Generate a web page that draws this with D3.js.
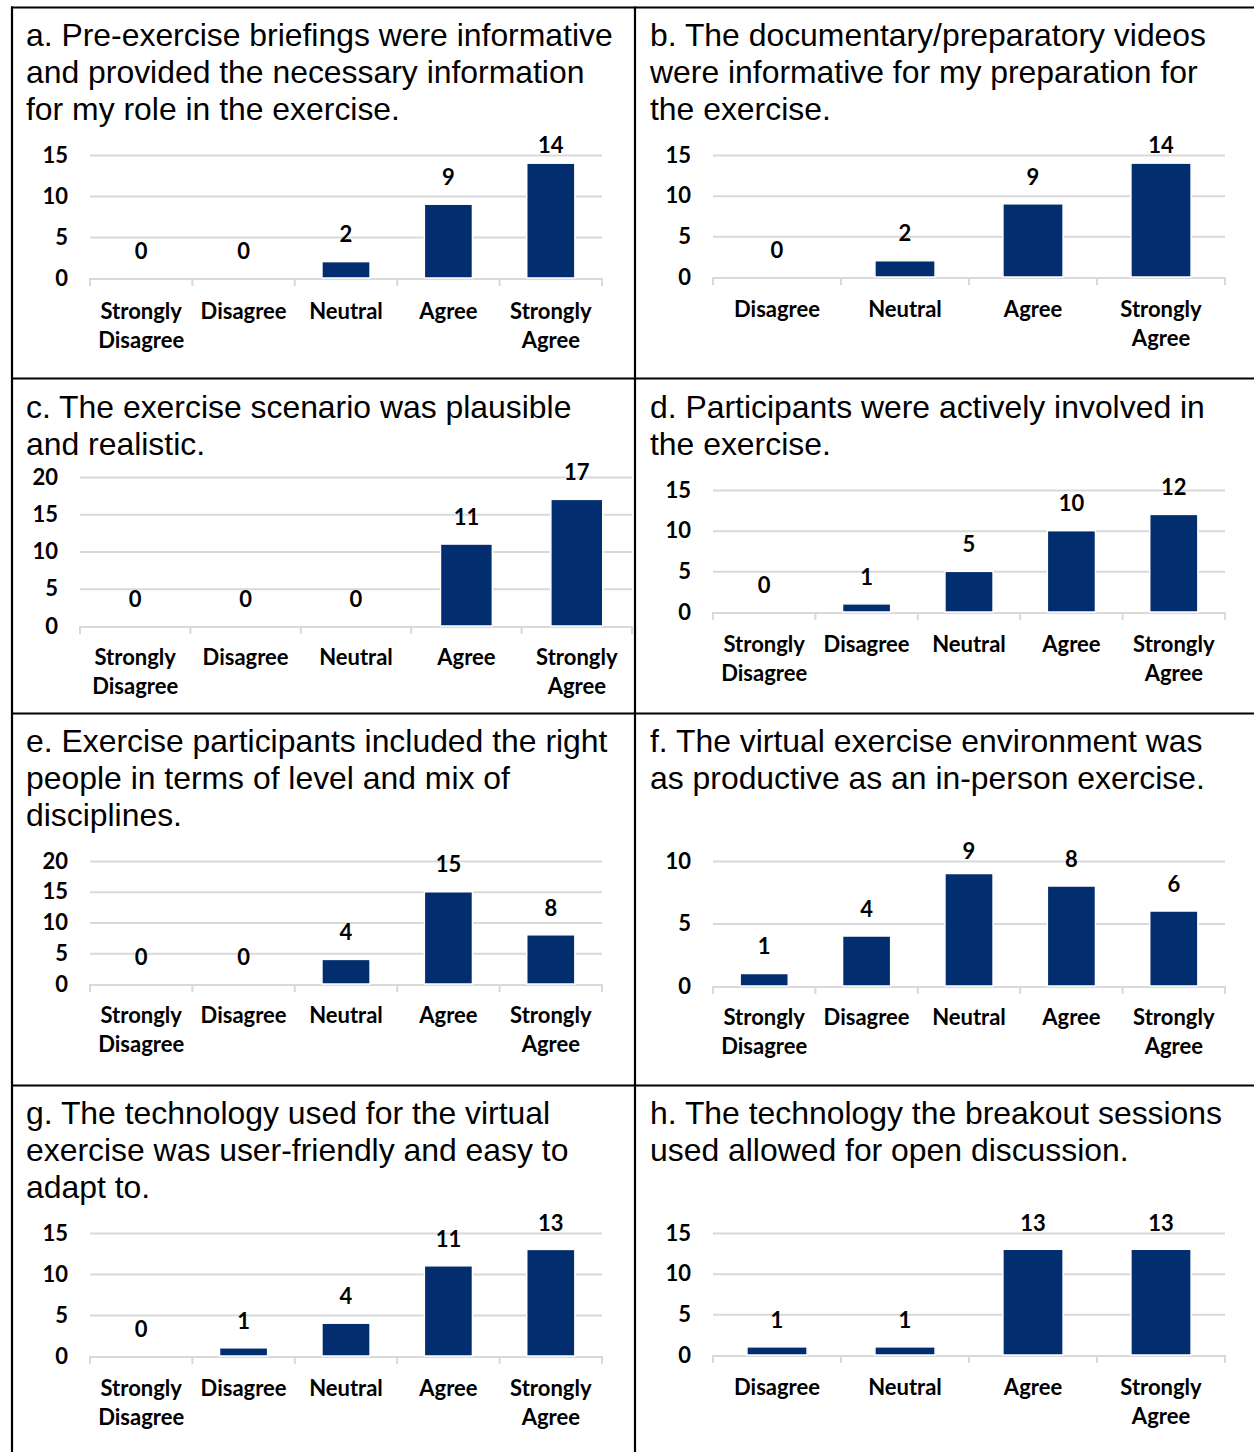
<!DOCTYPE html>
<html>
<head>
<meta charset="utf-8">
<script src="https://cdn.jsdelivr.net/npm/d3@7"></script>
<style>
  html, body { margin: 0; padding: 0; background: #fff; }
  svg { display: block; }
</style>
</head>
<body>
<svg id="chart" width="1254" height="1452"></svg>
<script>
// ---------------- DATA ----------------
const categoriesFive = ["Strongly Disagree", "Disagree", "Neutral", "Agree", "Strongly Agree"];
const categoriesFour = ["Disagree", "Neutral", "Agree", "Strongly Agree"];

const titleA = ["a. Pre-exercise briefings were informative", "and provided the necessary information", "for my role in the exercise."];
const valuesA = [0, 0, 2, 9, 14];
const ticksA = [0, 5, 10, 15];

const titleB = ["b. The documentary/preparatory videos", "were informative for my preparation for", "the exercise."];
const valuesB = [0, 2, 9, 14];
const ticksB = [0, 5, 10, 15];

const titleC = ["c. The exercise scenario was plausible", "and realistic."];
const valuesC = [0, 0, 0, 11, 17];
const ticksC = [0, 5, 10, 15, 20];

const titleD = ["d. Participants were actively involved in", "the exercise."];
const valuesD = [0, 1, 5, 10, 12];
const ticksD = [0, 5, 10, 15];

const titleE = ["e. Exercise participants included the right", "people in terms of level and mix of", "disciplines."];
const valuesE = [0, 0, 4, 15, 8];
const ticksE = [0, 5, 10, 15, 20];

const titleF = ["f. The virtual exercise environment was", "as productive as an in-person exercise."];
const valuesF = [1, 4, 9, 8, 6];
const ticksF = [0, 5, 10];

const titleG = ["g. The technology used for the virtual", "exercise was user-friendly and easy to", "adapt to."];
const valuesG = [0, 1, 4, 11, 13];
const ticksG = [0, 5, 10, 15];

const titleH = ["h. The technology the breakout sessions", "used allowed for open discussion."];
const valuesH = [1, 1, 13, 13];
const ticksH = [0, 5, 10, 15];

// ---------------- LAYOUT (positions only) ----------------
const layout = [
  { title: titleA, cats: categoriesFive, values: valuesA, ticks: ticksA, x0: 90,  x1: 602,  yTop: 155,  yBase: 278,  tx: 26,  ty: 35,   ly: 311 },
  { title: titleB, cats: categoriesFour, values: valuesB, ticks: ticksB, x0: 713, x1: 1225, yTop: 155,  yBase: 277,  tx: 650, ty: 35,   ly: 309 },
  { title: titleC, cats: categoriesFive, values: valuesC, ticks: ticksC, x0: 80,  x1: 632,  yTop: 477,  yBase: 626,  tx: 26,  ty: 407,  ly: 657 },
  { title: titleD, cats: categoriesFive, values: valuesD, ticks: ticksD, x0: 713, x1: 1225, yTop: 490,  yBase: 612,  tx: 650, ty: 407,  ly: 644 },
  { title: titleE, cats: categoriesFive, values: valuesE, ticks: ticksE, x0: 90,  x1: 602,  yTop: 861,  yBase: 984,  tx: 26,  ty: 741,  ly: 1015 },
  { title: titleF, cats: categoriesFive, values: valuesF, ticks: ticksF, x0: 713, x1: 1225, yTop: 861,  yBase: 986,  tx: 650, ty: 741,  ly: 1017 },
  { title: titleG, cats: categoriesFive, values: valuesG, ticks: ticksG, x0: 90,  x1: 602,  yTop: 1233, yBase: 1356, tx: 26,  ty: 1113, ly: 1388 },
  { title: titleH, cats: categoriesFour, values: valuesH, ticks: ticksH, x0: 713, x1: 1225, yTop: 1233, yBase: 1355, tx: 650, ty: 1113, ly: 1387 }
];

const BAR = "#022d6f";
const GRID = "#d9d9d9";
const TITLE_FONT = "'Liberation Sans', Arial, sans-serif";
const LABEL_FONT = "Lato, 'Open Sans', sans-serif";

const svg = d3.select("#chart");

// table borders
const borders = svg.append("g").attr("stroke", "#000").attr("stroke-width", 2.2);
borders.append("line").attr("x1", 12).attr("x2", 12).attr("y1", 6.5).attr("y2", 1452);
borders.append("line").attr("x1", 635).attr("x2", 635).attr("y1", 6.5).attr("y2", 1452);
[7.5, 378.5, 713.5, 1085.5].forEach(y =>
  borders.append("line").attr("x1", 11).attr("x2", 1254).attr("y1", y).attr("y2", y));

layout.forEach(p => {
  const g = svg.append("g");

  // title
  const t = g.append("text")
    .attr("font-family", TITLE_FONT)
    .attr("font-size", 31.9)
    .attr("fill", "#000");
  p.title.forEach((line, i) => {
    t.append("tspan").attr("x", p.tx).attr("y", p.ty + i * 37).attr("dy", "0.36em").text(line);
  });

  const maxTick = d3.max(p.ticks);
  const y = d3.scaleLinear().domain([0, maxTick]).range([p.yBase, p.yTop]);
  const x = d3.scaleBand().domain(p.cats).range([p.x0, p.x1]).paddingInner(0.53).paddingOuter(0.265);

  // gridlines
  const grid = g.append("g").attr("transform", `translate(${p.x0},0)`)
    .call(d3.axisLeft(y).tickValues(p.ticks.filter(v => v > 0)).tickSize(-(p.x1 - p.x0)).tickFormat(""));
  grid.select(".domain").remove();
  grid.selectAll("line").attr("stroke", GRID).attr("stroke-width", 2);

  // y tick labels
  const yAxis = g.append("g").attr("transform", `translate(${p.x0 - 22},0)`)
    .call(d3.axisLeft(y).tickValues(p.ticks).tickSize(0).tickPadding(0));
  yAxis.select(".domain").remove();
  yAxis.selectAll("text")
    .attr("font-family", LABEL_FONT).attr("font-weight", 700).attr("font-size", 22).attr("fill", "#000");

  // x baseline + band boundary ticks
  const boundaries = d3.range(p.cats.length + 1).map(i => p.x0 + i * (p.x1 - p.x0) / p.cats.length);
  g.append("line").attr("x1", p.x0).attr("x2", p.x1).attr("y1", y(0) + 1).attr("y2", y(0) + 1)
    .attr("stroke", GRID).attr("stroke-width", 2);
  g.selectAll(".xtick").data(boundaries).enter().append("line")
    .attr("x1", d => d).attr("x2", d => d).attr("y1", y(0)).attr("y2", y(0) + 8)
    .attr("stroke", GRID).attr("stroke-width", 2);

  // bars
  g.selectAll(".bar").data(p.values).enter().append("rect")
    .attr("x", (d, i) => x(p.cats[i]))
    .attr("width", x.bandwidth())
    .attr("y", d => y(d))
    .attr("height", d => y(0) - y(d))
    .attr("fill", BAR)
    .attr("stroke", "#fff").attr("stroke-width", d => d > 0 ? 1.5 : 0);

  // value labels
  g.selectAll(".val").data(p.values).enter().append("text")
    .attr("x", (d, i) => x(p.cats[i]) + x.bandwidth() / 2)
    .attr("y", d => Math.max(y(d) - 27, p.yTop - 10))
    .attr("dy", "0.35em")
    .attr("text-anchor", "middle")
    .attr("font-family", LABEL_FONT).attr("font-weight", 700).attr("font-size", 22).attr("fill", "#000")
    .text(d => d);

  // category labels
  p.cats.forEach((c, i) => {
    const words = c.split(" ");
    const lt = g.append("text")
      .attr("text-anchor", "middle")
      .attr("font-family", LABEL_FONT).attr("font-weight", 700).attr("font-size", 22).attr("fill", "#000");
    words.forEach((w, j) => {
      lt.append("tspan").attr("x", x(c) + x.bandwidth() / 2).attr("y", p.ly + j * 29).attr("dy", "0.35em").text(w);
    });
  });
});
</script>
</body>
</html>
